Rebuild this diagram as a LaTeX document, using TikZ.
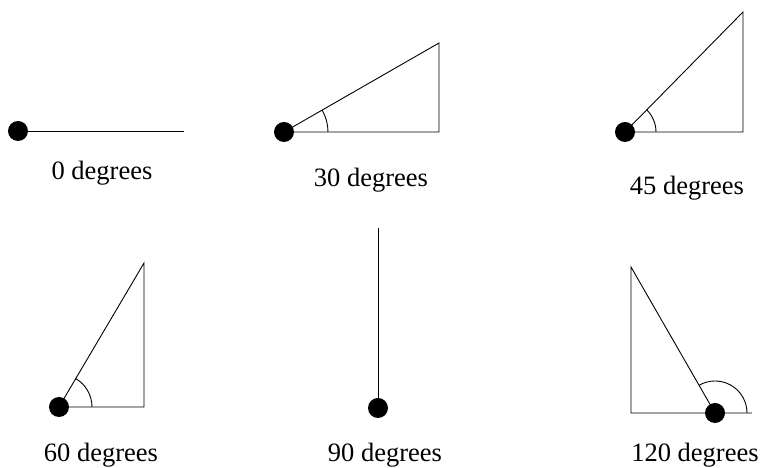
\documentclass[tikz,border=0pt]{standalone}
\usepackage{fontspec}
\setmainfont{Liberation Serif}
\usetikzlibrary{positioning}

\begin{document}
\begin{tikzpicture}[x=1pt, y=1pt, line width=0.9pt,
		vertex/.style={circle, fill=black, inner sep=0pt, minimum size=20pt},
		anglelabel/.style={font=\fontsize{26.5}{32}\selectfont, inner sep=0pt}]
		\useasboundingbox (0,0) rectangle (761,468);
		% top row
		\node[vertex] (o0) at (18,337) {};
		\coordinate (e0) at (184,337);
		\draw (o0.center) -- (e0);
		\node[anglelabel] (l0) at (102,295) {0 degrees};
		
		\node[vertex] (o30) at (284,336) {};
		\coordinate (c30) at (439,336);
		\coordinate (t30) at (439,425);
		\draw (o30.center) -- (c30) -- (t30) -- (o30.center);
		\draw ([shift={(0:44pt)}]o30.center) arc (0:30:44pt);
		\node[anglelabel] (l30) at (371,288) {30 degrees};
		
		\node[vertex] (o45) at (625,336) {};
		\coordinate (c45) at (743,336);
		\coordinate (t45) at (743,456);
		\draw (o45.center) -- (c45) -- (t45) -- (o45.center);
		\draw ([shift={(0:31pt)}]o45.center) arc (0:45:31pt);
		\node[anglelabel] (l45) at (687,280) {45 degrees};
		
		% bottom row
		\node[vertex] (o60) at (59,61) {};
		\coordinate (c60) at (144,61);
		\coordinate (t60) at (144,205);
		\draw (o60.center) -- (c60) -- (t60) -- (o60.center);
		\draw ([shift={(0:33pt)}]o60.center) arc (0:60:33pt);
		\node[anglelabel] (l60) at (101,13) {60 degrees};
		
		\node[vertex] (o90) at (378,60) {};
		\coordinate (t90) at (378,240);
		\draw (o90.center) -- (t90);
		\node[anglelabel] (l90) at (385,13) {90 degrees};
		
		\node[vertex] (o120) at (715,55) {};
		\coordinate (c120) at (631,55);
		\coordinate (t120) at (631,201);
		\coordinate (e120) at (752,55);
		\draw (e120) -- (c120) -- (t120) -- (o120.center);
		\draw ([shift={(0:32pt)}]o120.center) arc (0:120:32pt);
		\node[anglelabel] (l120) at (695,13) {120 degrees};
\end{tikzpicture}
\end{document}
